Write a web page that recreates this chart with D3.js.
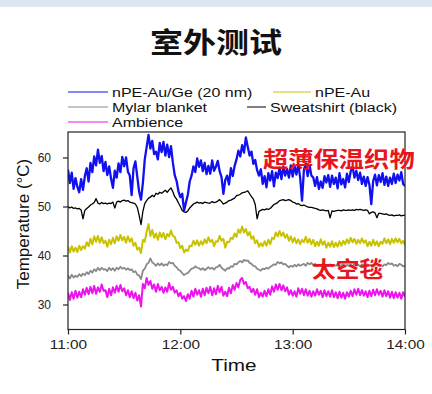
<!DOCTYPE html>
<html>
<head>
<meta charset="utf-8">
<script src="https://cdn.jsdelivr.net/npm/d3@7"></script>
<style>
  html, body { margin: 0; padding: 0; background: #fff; }
  svg text { font-family: "Liberation Sans", Arial, sans-serif; fill: #111; }
  .cjk { font-family: "Noto Sans CJK SC", sans-serif; font-weight: 700; }
</style>
</head>
<body>
<div id="chart"></div>
<script>
// readings every minute, 11:00 -> 14:00
const timeTicks = [0, 60, 120, 180];
const timeLabels = ["11:00", "12:00", "13:00", "14:00"];
const tempTicks = [30, 40, 50, 60];

const seriesNames = ["nPE-Au/Ge (20 nm)", "nPE-Au", "Mylar blanket", "Sweatshirt (black)", "Ambience"];
const seriesColors = ["#1010f0", "#c8c200", "#8a8a8a", "#000000", "#ee12ee"];

const auGe = [
    57.5, 54.8, 56.9, 53.6, 55.8, 54.0, 52.9, 55.6, 53.4, 56.2,
    57.8, 55.1, 58.9, 57.0, 60.2, 58.4, 61.6, 58.9, 60.3, 57.2,
    59.1, 56.4, 58.2, 55.7, 53.8, 57.3, 55.9, 58.8, 57.0, 60.1,
    58.2, 60.0, 57.1, 56.3, 52.3, 57.8, 59.2, 56.1, 53.0, 51.4,
    54.8, 59.6, 62.1, 64.6, 61.8, 63.4, 60.7, 61.2, 59.6, 63.0,
    61.1, 63.2, 60.4, 62.6, 60.1, 62.3, 59.0, 56.4, 55.2, 53.1,
    51.9, 52.6, 49.2, 50.8, 52.4, 55.1, 56.3, 58.2, 57.0, 59.8,
    58.1, 59.4, 57.2, 58.9, 56.6, 58.3, 56.7, 59.4, 57.3, 58.1,
    59.3, 57.2, 56.0, 52.6, 55.4, 56.3, 54.5, 57.8, 56.2, 58.3,
    59.6, 61.4, 60.2, 62.5, 61.0, 64.1, 62.2, 60.4, 61.2, 58.7,
    59.5, 57.4, 56.3, 57.6, 54.6, 56.2, 53.9, 56.8, 55.3, 57.2,
    54.1, 56.9, 55.8, 57.9, 55.6, 58.2, 56.3, 57.7, 55.9, 58.4,
    56.1, 58.3, 56.5, 58.7, 55.9, 51.2, 57.4, 58.8, 56.2, 58.5,
    56.3, 55.9, 54.2, 56.0, 53.6, 55.1, 53.8, 56.2, 54.9, 56.4,
    54.0, 56.3, 54.6, 55.9, 53.7, 56.8, 54.5, 55.6, 53.9, 56.7,
    55.0, 57.2, 58.1, 55.9, 57.3, 55.4, 56.9, 54.6, 56.1, 54.2,
    56.0, 54.4, 50.5, 55.2, 56.5, 54.3, 56.4, 55.0, 56.8, 54.4,
    56.1, 54.2, 55.9, 54.6, 56.7, 54.8, 56.5, 55.3, 57.0, 54.6, 54.2
];

const au = [
    41.8, 40.6, 41.9, 40.8, 41.6, 40.7, 42.0, 41.1, 41.9, 41.4,
    42.7, 41.9, 43.4, 42.3, 43.9, 42.8, 44.0, 42.6, 43.7, 42.5,
    43.0, 41.8, 43.2, 42.3, 43.6, 42.5, 43.9, 43.0, 44.2, 43.1,
    43.8, 42.6, 43.9, 42.8, 43.5, 42.0, 42.6, 41.2, 41.6, 40.5,
    43.2, 42.8, 44.9, 46.4, 44.0, 45.2, 43.6, 44.5, 43.2, 44.7,
    43.7, 44.6, 43.3, 44.4, 43.9, 45.1, 44.0, 43.8, 42.6, 42.7,
    41.5, 42.0, 40.6, 41.2, 40.9, 42.0, 41.9, 43.0, 42.2, 43.1,
    42.0, 42.9, 42.2, 43.3, 42.5, 43.7, 42.8, 43.2, 41.9, 42.9,
    42.8, 44.0, 43.0, 43.4, 41.6, 42.8, 42.7, 43.6, 43.4, 44.5,
    43.8, 45.3, 44.6, 45.9, 44.7, 45.4, 44.1, 44.8, 43.4, 43.9,
    42.5, 43.1, 41.8, 42.5, 41.9, 42.9, 42.0, 43.2, 42.3, 43.6,
    43.4, 44.7, 43.9, 45.0, 44.0, 44.7, 43.6, 44.3, 43.0, 43.9,
    42.7, 43.6, 42.5, 43.3, 42.3, 43.2, 42.7, 43.8, 42.6, 43.4,
    42.3, 43.2, 41.9, 42.8, 42.0, 43.3, 42.2, 42.9, 41.6, 42.6,
    41.8, 42.9, 41.7, 42.6, 41.8, 42.9, 42.0, 43.0, 42.3, 43.3,
    42.5, 43.6, 42.7, 43.4, 42.4, 43.2, 42.5, 43.5, 42.6, 43.1,
    41.9, 42.8, 42.0, 43.2, 42.1, 42.9, 41.9, 42.8, 42.4, 43.5,
    42.5, 43.3, 42.3, 43.4, 42.6, 43.5, 42.7, 43.4, 42.5, 43.0, 42.1
];

const mylar = [
    35.9, 35.3, 36.1, 35.5, 35.9, 35.6, 36.2, 35.8, 36.3, 36.0,
    36.6, 36.2, 36.9, 36.5, 37.2, 36.8, 37.5, 37.0, 37.5, 37.1,
    37.2, 36.8, 37.5, 37.0, 37.4, 36.9, 37.5, 37.2, 37.7, 37.3,
    37.5, 37.1, 37.4, 37.0, 37.2, 36.6, 36.8, 36.1, 35.9, 35.2,
    36.9, 37.3, 38.2, 38.5, 39.4, 38.6, 38.3, 37.9, 38.4, 38.0,
    38.4, 37.9, 38.2, 38.0, 38.7, 38.4, 38.5, 37.9, 37.6, 37.1,
    36.9, 36.4, 36.0, 36.3, 36.4, 36.9, 37.3, 37.4, 37.8, 37.5,
    37.4, 37.1, 37.4, 37.0, 37.3, 37.6, 37.3, 37.5, 37.1, 37.6,
    37.7, 38.1, 37.5, 37.2, 36.9, 37.4, 37.3, 37.8, 37.7, 38.3,
    38.2, 38.6, 38.9, 38.6, 39.1, 38.9, 39.0, 38.5, 38.3, 37.9,
    37.8, 37.3, 37.1, 36.9, 37.3, 37.2, 37.5, 37.3, 37.7, 37.9,
    38.2, 38.1, 38.7, 38.4, 38.6, 38.2, 38.3, 37.9, 37.6, 37.9,
    37.7, 38.1, 37.8, 38.2, 37.9, 38.1, 38.3, 37.9, 38.5, 38.2,
    38.5, 38.0, 38.3, 37.8, 38.1, 37.9, 38.2, 37.8, 38.1, 37.9,
    38.2, 37.8, 38.1, 37.9, 38.3, 37.8, 38.0, 38.2, 37.7, 38.1,
    37.9, 38.2, 37.8, 38.3, 37.9, 38.1, 37.8, 38.2, 38.0, 37.8,
    38.2, 37.9, 38.1, 37.7, 38.0, 38.3, 37.9, 38.1, 37.8, 38.2,
    38.0, 38.5, 38.2, 38.4, 37.9, 38.1, 37.8, 38.3, 38.1, 37.8, 37.9
];

const sweatshirt = [
    50.0, 49.7, 49.9, 49.6, 49.7, 49.5, 49.6, 49.3, 47.5, 49.2,
    49.6, 49.9, 50.3, 50.5, 50.8, 51.6, 50.7, 50.5, 50.8, 50.6,
    50.7, 50.5, 50.7, 50.6, 50.9, 49.7, 50.9, 51.1, 50.9, 51.2,
    51.3, 51.1, 51.2, 50.9, 50.8, 50.7, 50.5, 49.8, 48.2, 46.3,
    49.0, 50.6, 51.2, 51.7, 51.9, 52.3, 52.0, 52.7, 52.5, 52.9,
    52.7, 53.0, 53.3, 52.9, 53.4, 53.8, 53.0, 52.0, 51.5, 50.7,
    50.0, 49.2, 48.9, 48.8, 49.1, 49.7, 50.1, 50.5, 50.7, 50.9,
    50.7, 50.8, 50.6, 50.9, 50.8, 50.7, 50.7, 51.0, 50.8, 50.9,
    51.1, 51.4, 51.0, 50.5, 50.7, 50.9, 51.2, 51.3, 51.5, 51.7,
    52.2, 52.3, 52.5, 52.8, 52.9, 53.0, 53.2, 52.6, 52.0, 51.5,
    50.4, 47.5, 49.0, 49.2, 49.4, 49.3, 49.5, 49.4, 49.6, 50.0,
    50.4, 50.6, 50.8, 51.2, 51.3, 51.4, 51.2, 51.3, 51.4, 51.2,
    50.9, 50.8, 50.5, 50.6, 50.3, 50.2, 50.3, 50.1, 49.9, 49.8,
    49.8, 49.7, 49.6, 49.5, 49.3, 49.2, 49.3, 49.2, 49.1, 49.2,
    47.7, 49.1, 49.0, 49.1, 49.2, 49.2, 49.1, 49.3, 49.2, 49.2,
    49.3, 49.2, 49.3, 49.2, 49.4, 49.3, 49.4, 49.3, 49.2, 49.3,
    49.2, 48.5, 48.8, 48.9, 48.7, 47.7, 48.6, 48.6, 48.5, 48.4,
    48.5, 48.3, 48.2, 48.3, 48.1, 48.2, 48.2, 48.3, 48.1, 48.2, 48.2
];

const ambience = [
    32.4, 30.9, 32.5, 31.2, 32.8, 31.4, 32.6, 31.5, 33.1, 32.0,
    33.4, 32.1, 33.6, 32.3, 33.8, 32.2, 33.5, 32.6, 34.1, 32.8,
    32.9, 31.5, 33.2, 31.9, 33.5, 32.4, 33.8, 32.6, 34.0, 32.7,
    33.3, 31.9, 32.9, 31.5, 32.7, 31.3, 32.4, 30.8, 31.9, 29.6,
    34.2, 33.3, 35.4, 34.0, 34.8, 33.2, 34.1, 32.6, 34.2, 32.9,
    33.6, 32.4, 33.5, 32.6, 34.4, 33.0, 33.6, 32.4, 32.9, 31.7,
    32.4, 31.2, 31.7, 30.7, 32.1, 31.2, 32.8, 31.6, 33.2, 32.0,
    32.9, 31.6, 33.2, 31.9, 33.4, 32.3, 33.6, 31.9, 33.3, 32.1,
    33.8, 32.5, 33.6, 31.8, 32.6, 31.7, 33.4, 32.3, 34.0, 33.0,
    34.4, 33.5, 35.0, 35.4, 34.2, 34.6, 33.3, 33.6, 32.5, 33.2,
    32.0, 33.1, 31.5, 32.4, 31.6, 32.8, 31.7, 33.1, 32.0, 33.7,
    32.6, 34.1, 33.0, 34.2, 32.9, 33.9, 32.7, 33.5, 32.0, 32.9,
    31.8, 32.7, 31.6, 33.3, 32.2, 33.2, 31.9, 33.1, 31.8, 32.8,
    31.6, 32.7, 31.8, 33.1, 32.0, 32.8, 31.5, 32.9, 31.7, 32.7,
    31.6, 32.9, 31.5, 32.5, 31.3, 32.6, 31.4, 32.4, 31.2, 32.5,
    31.6, 32.8, 31.7, 33.1, 32.0, 33.2, 31.9, 32.9, 31.8, 32.7,
    31.5, 32.8, 31.7, 33.0, 31.9, 33.1, 32.0, 32.8, 31.6, 32.9,
    31.7, 32.7, 31.4, 32.6, 31.3, 32.5, 31.4, 32.4, 31.2, 32.5, 31.6
];

const seriesData = [auGe, au, mylar, sweatshirt, ambience];
const drawOrder = [2, 4, 1, 3, 0];
const strokeWidths = [2.3, 2.0, 1.8, 1.3, 2.0];

// layout
const W = 432, H = 394;
const plot = { left: 68, right: 405, top: 132, bottom: 329.5 };
const stretch = 1.28;

const svg = d3.select("#chart").append("svg")
    .attr("width", W)
    .attr("height", H);

svg.append("rect")
    .attr("x", 0).attr("y", 0)
    .attr("width", W).attr("height", 7)
    .attr("fill", "#dde6f1");

svg.append("text")
    .attr("class", "cjk")
    .attr("transform", "translate(216,53) scale(1.18,1)")
    .attr("text-anchor", "middle")
    .attr("font-size", 28)
    .style("fill", "#111")
    .text("室外测试");

const xScale = d3.scaleLinear()
    .domain([0, 180])
    .range([plot.left, plot.right]);

const yScale = d3.scaleLinear()
    .domain([24.9, 65.2])
    .range([plot.bottom, plot.top]);

svg.append("clipPath").attr("id", "plotClip")
    .append("rect")
    .attr("x", plot.left).attr("y", plot.top)
    .attr("width", plot.right - plot.left)
    .attr("height", plot.bottom - plot.top);

const line = d3.line()
    .x((d, i) => xScale(i))
    .y(d => yScale(d));

const lines = svg.append("g").attr("clip-path", "url(#plotClip)");
drawOrder.forEach(k => {
    lines.append("path")
        .datum(seriesData[k])
        .attr("fill", "none")
        .attr("stroke", seriesColors[k])
        .attr("stroke-width", strokeWidths[k])
        .attr("stroke-linejoin", "round")
        .attr("d", line);
});

// frame
svg.append("rect")
    .attr("x", plot.left).attr("y", plot.top)
    .attr("width", plot.right - plot.left)
    .attr("height", plot.bottom - plot.top)
    .attr("fill", "none")
    .attr("stroke", "#222")
    .attr("stroke-width", 1.2);

const xAxis = d3.axisBottom(xScale)
    .tickValues(timeTicks)
    .tickFormat((d, i) => timeLabels[i])
    .tickSizeInner(5)
    .tickSizeOuter(0)
    .tickPadding(6);

const gx = svg.append("g")
    .attr("transform", "translate(0," + plot.bottom + ")")
    .call(xAxis);
gx.select(".domain").remove();
gx.selectAll("line").attr("stroke", "#222").attr("stroke-width", 1.2);
gx.selectAll("text")
    .attr("font-size", 12)
    .attr("font-family", "Liberation Sans, Arial, sans-serif")
    .attr("transform", "scale(" + stretch + ",1)")
    .style("fill", "#222");

const yAxis = d3.axisLeft(yScale)
    .tickValues(tempTicks)
    .tickSizeInner(5)
    .tickSizeOuter(0)
    .tickPadding(12);

const gy = svg.append("g")
    .attr("transform", "translate(" + plot.left + ",0)")
    .call(yAxis);
gy.select(".domain").remove();
gy.selectAll("line").attr("stroke", "#222").attr("stroke-width", 1.2);
gy.selectAll("text")
    .attr("font-size", 12)
    .attr("font-family", "Liberation Sans, Arial, sans-serif")
    .style("fill", "#222");

svg.append("text")
    .attr("transform", "translate(234,371) scale(1.22,1)")
    .attr("text-anchor", "middle")
    .attr("font-size", 17)
    .text("Time");

svg.append("text")
    .attr("transform", "translate(29,224) rotate(-90)")
    .attr("text-anchor", "middle")
    .attr("font-size", 17)
    .text("Temperature (°C)");

// legend: [series index, line x0, line x1, row y]
const legendLayout = [
    [0, 68, 108, 92],
    [1, 273, 311, 92],
    [2, 68, 108, 107],
    [3, 247, 266, 107],
    [4, 68, 108, 122]
];

const legend = svg.append("g");
legendLayout.forEach(([k, x0, x1, yy]) => {
    legend.append("line")
        .attr("x1", x0).attr("x2", x1)
        .attr("y1", yy).attr("y2", yy)
        .attr("stroke", seriesColors[k])
        .attr("stroke-width", 1);
    legend.append("text")
        .attr("transform", "translate(" + (x1 + 4) + "," + (yy + 4.5) + ") scale(" + stretch + ",1)")
        .attr("font-size", 12.5)
        .text(seriesNames[k]);
});

// annotations
svg.append("text")
    .attr("class", "cjk")
    .attr("transform", "translate(263,167) scale(1.15,1)")
    .attr("font-size", 22)
    .style("fill", "#e8161c")
    .text("超薄保温织物");

svg.append("text")
    .attr("class", "cjk")
    .attr("transform", "translate(312,277) scale(1.08,1)")
    .attr("font-size", 22)
    .style("fill", "#e8161c")
    .text("太空毯");
</script>
</body>
</html>
